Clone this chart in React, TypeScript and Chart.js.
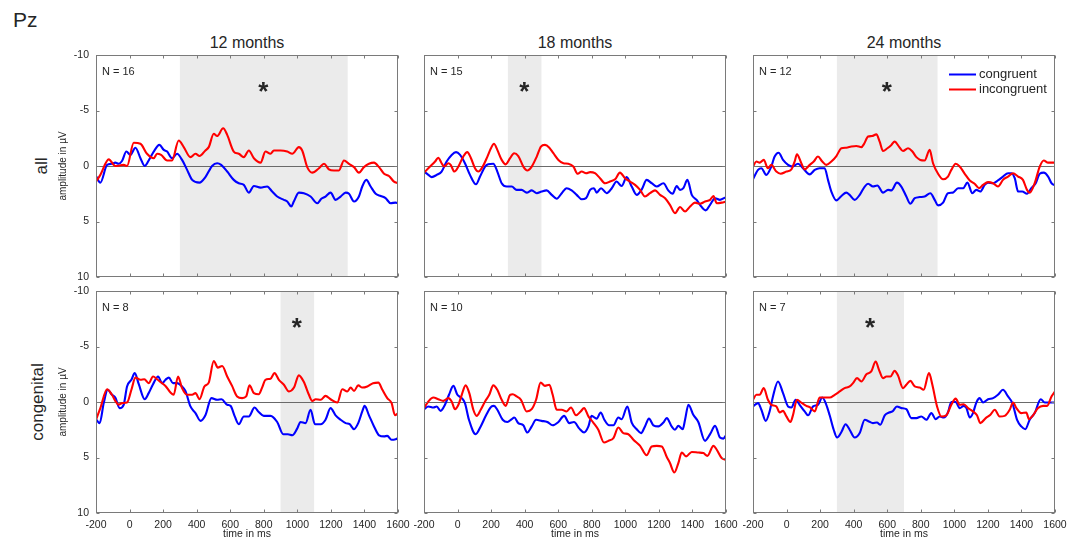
import React, { useEffect, useRef } from 'react';
import { Chart, registerables } from 'chart.js';

Chart.register(...registerables);

// ---- ERP grand averages at electrode Pz: [time in ms, amplitude in µV] ----

// 12 months, all children
const con12All: [number, number][] = [
  [-200, 0.9], [-174, 1.5], [-134, -0.1], [-105, -0.2], [-85, -0.3], [-65, -0.2], [-45, -0.45], [-19, -1.3],
  [5, -1.0], [35, -1.65], [65, -0.7], [90, 0], [114, -0.5], [144, -1.3], [178, -1.9], [204, -1.45],
  [224, -1.3], [253, -0.7], [283, -1.1], [313, -0.55], [343, 0.35], [373, 1.25], [417, 1.5], [452, 1.0],
  [492, 0], [522, -0.25], [546, -0.1], [582, 0.5], [621, 1.25], [651, 1.55], [681, 1.7], [711, 2.4],
  [741, 1.8], [781, 1.95], [820, 1.85], [850, 2.3], [880, 2.75], [920, 3.05], [940, 3.2], [964, 3.65],
  [979, 3.2], [1009, 2.4], [1039, 2.45], [1079, 2.75], [1119, 3.35], [1143, 2.95], [1168, 2.75], [1198, 2.4],
  [1228, 3.05], [1258, 2.75], [1288, 2.4], [1308, 2.5], [1338, 3.2], [1367, 2.75], [1387, 1.85], [1411, 1.25],
  [1437, 1.85], [1467, 2.5], [1497, 2.7], [1526, 2.9], [1556, 3.35], [1586, 3.3], [1600, 3.35],
];
const inc12All: [number, number][] = [
  [-200, 1.4], [-174, 0.8], [-124, -0.6], [-85, 0], [-35, -0.1], [-15, 0], [25, -2.1], [65, -2.0],
  [104, -1.1], [144, -0.7], [164, -1.1], [188, -1.0], [224, -0.5], [253, -0.5], [293, -2.3], [323, -1.7],
  [363, -0.8], [393, -1.1], [417, -0.9], [452, -1.4], [472, -1.7], [502, -2.9], [522, -2.7], [558, -3.4],
  [582, -2.8], [621, -1.3], [651, -1.1], [681, -0.8], [711, -1.4], [741, -0.7], [781, -0.3], [810, -1.3],
  [840, -1.1], [860, -1.4], [900, -1.4], [940, -1.3], [970, -1.1], [1009, -1.7], [1029, -1.4], [1059, 0.1],
  [1089, 0.6], [1129, 0.2], [1159, -0.2], [1188, 0.3], [1218, 0.4], [1248, 0.4], [1278, -0.5], [1308, -0.2],
  [1338, 0.1], [1367, 0.6], [1397, 0.1], [1427, -0.2], [1457, -0.3], [1487, 0.1], [1517, 0.7], [1546, 0.9],
  [1576, 1.4], [1600, 1.55],
];

// 18 months, all children
const con18All: [number, number][] = [
  [-200, 0.5], [-174, 0.8], [-154, 1.0], [-124, 0.8], [-95, 0.5], [-65, -0.4], [-35, -1.0], [-9, -1.25],
  [15, -1.0], [44, -0.25], [74, 0.8], [110, 1.65], [134, 0.95], [164, 0.05], [183, -0.15], [213, -0.2],
  [237, 0.5], [263, 1.55], [293, 1.85], [323, 1.85], [352, 2.15], [382, 2.15], [412, 2.4], [442, 2.2],
  [472, 2.45], [501, 2.3], [531, 2.2], [561, 2.6], [591, 2.95], [621, 2.45], [650, 2.0], [680, 2.2],
  [710, 2.6], [740, 3.0], [766, 2.9], [790, 2.15], [813, 2.0], [829, 2.4], [855, 2.0], [889, 2.45],
  [919, 2.0], [948, 1.4], [978, 1.8], [1008, 1.0], [1038, 1.85], [1068, 2.6], [1098, 2.1], [1127, 1.25],
  [1157, 1.55], [1187, 1.85], [1227, 1.55], [1256, 2.2], [1282, 2.5], [1306, 1.8], [1326, 2.15], [1346, 2.0],
  [1370, 1.25], [1396, 2.6], [1425, 3.05], [1445, 3.5], [1479, 4.0], [1505, 3.5], [1535, 2.9], [1564, 3.05],
  [1600, 2.8],
];
const inc18All: [number, number][] = [
  [-200, 0.6], [-164, 0.05], [-134, -0.4], [-115, -0.75], [-95, -0.25], [-79, 0.05], [-55, -0.25], [-41, -0.1],
  [-19, 0.5], [5, 0.05], [34, -0.85], [58, -1.25], [80, -0.7], [104, 0.2], [124, 0.5], [150, 0.05],
  [178, -0.85], [199, -1.6], [217, -2.0], [237, -1.45], [263, -0.55], [287, -0.15], [313, -0.7], [337, -1.15],
  [362, -0.9], [392, 0.05], [416, 0.4], [442, 0.05], [472, -0.85], [497, -1.75], [521, -1.9], [547, -1.65],
  [571, -1.15], [601, -0.55], [631, -0.25], [660, -0.2], [690, 0.05], [716, 0.7], [740, 0.5], [766, 0.65],
  [790, 0.55], [819, 0.65], [849, 1.1], [879, 1.55], [909, 1.4], [939, 1.2], [968, 0.6], [998, 1.1],
  [1028, 1.4], [1058, 1.7], [1088, 2.15], [1117, 2.75], [1147, 2.45], [1177, 2.2], [1207, 2.6], [1237, 2.9],
  [1266, 3.5], [1296, 4.25], [1326, 3.7], [1356, 4.1], [1386, 3.65], [1415, 3.3], [1445, 3.4], [1475, 3.2],
  [1505, 3.05], [1525, 2.7], [1545, 3.35], [1574, 3.3], [1600, 3.2],
];

// 24 months, all children
const con24All: [number, number][] = [
  [-200, 1.2], [-170, 0.35], [-150, 0.2], [-121, 0.8], [-91, 0.05], [-71, -0.85], [-47, -1.2], [-21, -0.55],
  [9, -0.1], [34, 0.05], [68, -0.2], [98, 0.2], [138, 0.75], [168, 0.35], [197, 0.2], [227, 0.2],
  [247, 1.25], [267, 2.3], [297, 3.1], [327, 2.7], [356, 2.4], [376, 2.6], [406, 3.05], [436, 2.6],
  [466, 1.85], [486, 1.6], [515, 1.85], [541, 1.75], [575, 2.4], [605, 2.15], [625, 2.2], [658, 1.5],
  [684, 1.85], [714, 2.75], [738, 3.4], [764, 2.9], [794, 2.8], [823, 2.75], [857, 2.45], [883, 3.05],
  [903, 3.55], [933, 3.3], [962, 2.45], [992, 2.4], [1022, 2.0], [1052, 2.0], [1078, 1.5], [1107, 2.45],
  [1131, 2.15], [1155, 2.3], [1181, 1.7], [1201, 1.5], [1231, 1.55], [1260, 1.3], [1290, 0.95], [1320, 0.65],
  [1340, 0.65], [1360, 1.1], [1380, 2.3], [1405, 2.3], [1433, 2.5], [1459, 2.0], [1485, 1.55], [1509, 0.7],
  [1533, 0.6], [1559, 0.95], [1579, 1.55], [1600, 1.75],
];
const inc24All: [number, number][] = [
  [-200, 0.05], [-180, -0.4], [-160, -0.3], [-136, -0.55], [-111, 0.2], [-91, -0.1], [-61, 0.5], [-35, 0.7],
  [-1, 0.5], [29, 0.3], [48, -0.4], [62, -1.05], [88, -0.25], [108, 0.3], [138, -0.1], [162, -0.4],
  [187, -0.85], [213, -0.4], [237, -0.1], [267, -0.4], [297, -0.9], [327, -1.6], [356, -1.65], [386, -1.75],
  [416, -1.8], [446, -1.7], [462, -2.0], [486, -2.65], [509, -2.7], [535, -2.85], [555, -2.2], [575, -1.35],
  [601, -1.6], [625, -1.9], [644, -2.2], [670, -1.75], [694, -1.35], [724, -1.6], [750, -1.3], [774, -0.8],
  [797, -0.55], [823, -0.5], [853, -1.45], [873, -0.25], [903, 0.7], [933, 1.2], [962, 0.95], [982, 0.35],
  [1008, -0.2], [1032, 0.05], [1062, 0.7], [1092, 1.3], [1121, 1.6], [1147, 2.0], [1171, 1.7], [1201, 1.45],
  [1231, 1.55], [1260, 1.85], [1290, 1.25], [1320, 0.95], [1350, 0.65], [1380, 0.95], [1409, 1.25], [1433, 2.15],
  [1449, 2.4], [1479, 1.55], [1509, 0.05], [1533, -0.5], [1559, -0.3], [1600, -0.3],
];

// 12 months, congenital
const con12Cong: [number, number][] = [
  [-200, 1.55], [-178, 1.9], [-154, 0.1], [-130, -1.1], [-105, -0.65], [-85, -0.4], [-59, 0.55], [-35, 0.25],
  [-15, -1.4], [11, -2.0], [31, -2.6], [55, -1.6], [90, -0.25], [114, -0.8], [140, -1.6], [170, -2.3],
  [194, -1.7], [214, -2.0], [234, -2.2], [259, -1.7], [283, -1.7], [313, -1.4], [333, -1.0], [363, 0.4],
  [393, 1.0], [423, 1.7], [452, 1.2], [488, -0.35], [522, -0.2], [548, -0.25], [582, 0.25], [602, 0.35],
  [627, 1.3], [651, 2.0], [681, 1.3], [711, 1.3], [745, 0.5], [770, 0.9], [800, 1.25], [840, 1.25],
  [880, 1.8], [916, 2.9], [944, 2.9], [970, 3.0], [999, 2.4], [1019, 1.8], [1049, 1.9], [1079, 0.7],
  [1105, 2.0], [1139, 2.0], [1168, 1.6], [1198, 0.55], [1228, 1.2], [1258, 1.6], [1288, 1.9], [1312, 2.0],
  [1338, 2.45], [1363, 1.9], [1387, 0.85], [1401, 0.35], [1427, 1.2], [1457, 2.2], [1487, 3.0], [1517, 3.1],
  [1536, 3.05], [1562, 3.4], [1586, 3.35], [1600, 3.25],
];
const inc12Cong: [number, number][] = [
  [-200, 1.6], [-174, 0.55], [-134, -1.15], [-105, -0.65], [-85, -0.1], [-65, 0.25], [-45, 0.1], [-15, 0.05],
  [11, -1.1], [35, -2.2], [65, -2.0], [88, -2.05], [114, -1.7], [140, -2.3], [164, -2.05], [184, -1.8],
  [214, -1.45], [244, -0.85], [263, -0.65], [289, -2.3], [313, -1.25], [343, -0.65], [373, -0.65], [393, -0.8],
  [417, -0.25], [446, -1.4], [472, -1.75], [502, -3.7], [526, -3.1], [552, -3.25], [582, -2.3], [611, -1.45],
  [641, -0.5], [671, -0.35], [695, -0.5], [715, -1.5], [741, -0.8], [770, -0.7], [790, -1.3], [810, -2.0],
  [840, -2.1], [864, -2.6], [890, -2.0], [920, -1.55], [950, -0.95], [980, -1.3], [1009, -2.4], [1039, -1.8],
  [1069, -0.65], [1089, -0.1], [1109, -0.25], [1139, -0.2], [1168, -0.55], [1198, -0.25], [1238, 0.05], [1268, -1.15],
  [1298, -0.95], [1318, -1.3], [1338, -1.0], [1363, -1.5], [1387, -1.3], [1417, -1.4], [1451, -1.7], [1483, -1.75],
  [1507, -1.1], [1536, -0.35], [1562, 0.1], [1582, 1.2], [1600, 1.0],
];

// 18 months, congenital
const con18Cong: [number, number][] = [
  [-200, 0.65], [-174, 0.4], [-144, 0.5], [-124, 0.4], [-101, 0.8], [-75, 0.25], [-51, -0.65], [-25, -1.45],
  [-1, -0.65], [25, -0.35], [44, 0.1], [68, 1.6], [108, 2.9], [138, 2.2], [170, 1.2], [203, 0.4],
  [217, 0.35], [237, 0.7], [269, 1.6], [297, 1.8], [323, 1.55], [338, 1.4], [362, 1.9], [392, 2.1],
  [416, 2.75], [442, 2.2], [468, 1.6], [501, 1.7], [535, 1.8], [567, 2.1], [601, 1.8], [635, 1.25],
  [666, 1.9], [694, 1.8], [726, 2.4], [754, 2.75], [780, 2.2], [799, 1.25], [829, 1.5], [853, 0.95],
  [875, 1.6], [903, 2.1], [929, 2.1], [958, 1.4], [978, 1.55], [1012, 0.4], [1038, 1.85], [1068, 2.45],
  [1094, 2.8], [1117, 2.2], [1141, 1.5], [1167, 2.1], [1197, 2.2], [1227, 1.85], [1247, 1.45], [1276, 2.2],
  [1296, 2.5], [1316, 2.15], [1342, 2.45], [1356, 1.6], [1376, 0.25], [1405, 1.15], [1435, 1.8], [1475, 3.5],
  [1505, 2.9], [1535, 2.15], [1564, 3.2], [1584, 3.3], [1600, 3.0],
];
const inc18Cong: [number, number][] = [
  [-200, 0.55], [-174, -0.05], [-144, -0.4], [-115, -0.25], [-85, -0.1], [-55, -0.35], [-35, -0.05], [-15, 0.65],
  [5, 0.25], [25, -0.65], [48, -1.5], [70, -0.8], [94, 0.7], [114, 1.25], [138, 0.7], [164, -0.05],
  [189, -0.65], [213, -1.5], [237, -1.1], [263, -0.2], [287, 0.35], [313, -0.65], [329, -0.7], [352, -0.5],
  [378, -0.2], [412, 0.85], [442, 0.65], [468, -0.2], [495, -1.75], [521, -1.45], [547, -1.55], [567, -0.65],
  [591, 0.7], [621, 0.7], [650, 0.85], [676, 0.5], [706, 1.2], [734, 0.85], [754, 0.55], [780, 1.3],
  [809, 1.85], [839, 2.5], [873, 3.65], [899, 3.5], [929, 3.25], [958, 2.3], [988, 2.8], [1018, 2.9],
  [1048, 3.4], [1088, 3.95], [1127, 4.8], [1157, 4.0], [1187, 3.95], [1217, 4.0], [1247, 4.95], [1266, 5.5],
  [1292, 6.35], [1316, 5.5], [1336, 4.55], [1362, 4.9], [1396, 4.5], [1435, 4.55], [1465, 4.6], [1489, 4.85],
  [1525, 3.95], [1545, 4.3], [1574, 5.05], [1600, 5.2],
];

// 24 months, congenital
const con24Cong: [number, number][] = [
  [-200, 0.4], [-170, 0.1], [-150, 0.7], [-124, 1.7], [-101, 0.85], [-81, -0.5], [-51, -1.85], [-21, -0.8],
  [9, 0.4], [29, 0.5], [54, -0.2], [78, 0.25], [108, 0.85], [128, 1.2], [158, 0.4], [187, 0.25],
  [213, -0.4], [237, 0.25], [257, 1.2], [281, 2.5], [301, 3.2], [327, 2.7], [352, 2.0], [376, 2.5],
  [406, 3.2], [436, 2.8], [466, 1.6], [491, 1.75], [515, 1.9], [539, 1.85], [559, 2.05], [585, 1.2],
  [611, 0.95], [631, 0.85], [658, 0.4], [684, 0.55], [714, 0.65], [744, 1.45], [774, 1.45], [803, 1.3],
  [833, 1.6], [863, 1.0], [889, 1.55], [913, 1.3], [937, 1.4], [962, 0.95], [982, 0], [1008, 0],
  [1032, 0.55], [1056, 0.35], [1072, 0.55], [1092, 1.4], [1111, 1.0], [1131, 0.05], [1151, -0.35], [1171, 0.05],
  [1201, -0.25], [1231, -0.35], [1260, -0.65], [1290, -1.1], [1320, -0.5], [1346, 0.1], [1374, 1.6], [1399, 2.2],
  [1423, 2.45], [1449, 1.6], [1479, 1.0], [1515, -0.25], [1539, 0.05], [1569, 0.05], [1600, 0.05],
];
const inc24Cong: [number, number][] = [
  [-200, -0.2], [-180, -0.65], [-160, -0.65], [-136, -1.25], [-111, -0.2], [-91, 0.25], [-61, 0.4], [-41, 0.95],
  [-21, 0.8], [-1, 1.3], [23, 1.8], [38, 1.2], [62, -0.2], [88, 0.05], [118, 0.35], [142, 0.5],
  [168, 0.85], [197, -0.4], [227, -0.4], [257, -0.4], [287, -0.65], [317, -0.95], [346, -1.25], [376, -1.4],
  [396, -1.7], [420, -2.15], [446, -1.85], [476, -2.5], [505, -2.75], [531, -3.65], [551, -2.9], [575, -2.15],
  [595, -2.3], [619, -2.3], [644, -2.8], [664, -2.4], [694, -1.25], [714, -1.55], [738, -1.9], [764, -1.4],
  [794, -1.3], [817, -1.1], [849, -2.6], [869, -1.55], [897, 0.4], [923, 1.3], [952, 1.2], [982, 0.25],
  [1008, -0.3], [1032, 0.25], [1056, 0.2], [1082, 0.55], [1111, 0.85], [1135, 1.2], [1155, 1.9], [1187, 1.45],
  [1215, 1.15], [1241, 0.7], [1270, 1.3], [1300, 1.25], [1330, 0.7], [1350, 0.05], [1370, 0.55], [1399, 1.0],
  [1429, 0.95], [1445, 1.55], [1469, 1.2], [1499, 0.55], [1529, 0.35], [1553, 0.35], [1579, -0.5], [1600, -0.95],
];

// ---- panel annotations ----
const ageLabels = ['12 months', '18 months', '24 months'];
const groupLabels = ['all', 'congenital'];
const sampleSizes = [16, 15, 12, 8, 10, 7];
const sigWindows: ([number, number] | null)[] = [[300, 1300], [300, 500], [300, 900], [900, 1100], null, [300, 700]];
const seriesNames = ['congruent', 'incongruent'];
const xTickValues = [-200, 0, 200, 400, 600, 800, 1000, 1200, 1400, 1600];
const yTickValues = [-10, -5, 0, 5, 10];

const congruentSeries = [con12All, con18All, con24All, con12Cong, con18Cong, con24Cong];
const incongruentSeries = [inc12All, inc18All, inc24All, inc12Cong, inc18Cong, inc24Cong];

// ---- layout & style ----
const FONT = "'Liberation Sans', Arial, Helvetica, sans-serif";
const TEXT = '#262626';
const AXIS = '#7a7a7a';
const ZERO = '#6a6a6a';
const SHADE = '#ebebeb';
const BLUE = 'rgb(0,0,255)';
const RED = 'rgb(255,0,0)';

const PLOT_W = 302;
const PLOT_H = 222;
const PLOT_LEFT = [96, 424, 753];
const PLOT_TOP = [55, 291];
const PAD = { l: 44, r: 14, t: 8, b: 26 };
const CANVAS_W = PLOT_W + PAD.l + PAD.r;
const CANVAS_H = PLOT_H + PAD.t + PAD.b;

type PanelCfg = {
  idx: number;
  col: number;
  row: number;
};

// draws text so that its visible glyph box is centred on (cx, cy)
function fillCentered(ctx: CanvasRenderingContext2D, text: string, cx: number, cy: number) {
  ctx.textAlign = 'left';
  ctx.textBaseline = 'alphabetic';
  const m = ctx.measureText(text);
  const bx = cx - (m.actualBoundingBoxRight - m.actualBoundingBoxLeft) / 2;
  const by = cy + (m.actualBoundingBoxAscent - m.actualBoundingBoxDescent) / 2;
  ctx.fillText(text, bx, by);
}

function makeDecor(idx: number, showLegend: boolean) {
  return {
    id: 'erpDecor',
    beforeDatasetsDraw(chart: any) {
      const { ctx, chartArea: a, scales } = chart;
      const x = scales.x;
      const y = scales.y;
      ctx.save();
      const win = sigWindows[idx];
      if (win) {
        const x0 = x.getPixelForValue(win[0]);
        const x1 = x.getPixelForValue(win[1]);
        ctx.fillStyle = SHADE;
        ctx.fillRect(x0, a.top, x1 - x0, a.bottom - a.top);
      }
      const y0 = Math.round(y.getPixelForValue(0)) + 0.5;
      ctx.strokeStyle = ZERO;
      ctx.lineWidth = 1;
      ctx.beginPath();
      ctx.moveTo(a.left, y0);
      ctx.lineTo(a.right, y0);
      ctx.stroke();
      ctx.restore();
    },
    afterDatasetsDraw(chart: any) {
      const { ctx, chartArea: a, scales } = chart;
      const x = scales.x;
      const y = scales.y;
      ctx.save();
      // axes box with inward tick marks on all four sides
      const L = Math.round(a.left) + 0.5;
      const R = Math.round(a.right) - 0.5;
      const T = Math.round(a.top) + 0.5;
      const B = Math.round(a.bottom) - 0.5;
      ctx.strokeStyle = AXIS;
      ctx.lineWidth = 1;
      ctx.strokeRect(L, T, R - L, B - T);
      const tl = 3;
      ctx.beginPath();
      xTickValues.forEach((t) => {
        const px = Math.round(x.getPixelForValue(t)) + 0.5;
        ctx.moveTo(px, B);
        ctx.lineTo(px, B - tl);
        ctx.moveTo(px, T);
        ctx.lineTo(px, T + tl);
      });
      yTickValues.forEach((v) => {
        const py = Math.round(y.getPixelForValue(v)) + 0.5;
        ctx.moveTo(L, py);
        ctx.lineTo(L + tl, py);
        ctx.moveTo(R, py);
        ctx.lineTo(R - tl, py);
      });
      ctx.stroke();

      // sample size
      ctx.fillStyle = TEXT;
      ctx.font = `11px ${FONT}`;
      ctx.textAlign = 'left';
      ctx.textBaseline = 'middle';
      ctx.fillText(`N = ${sampleSizes[idx]}`, a.left + 6, a.top + 17);

      // significance marker centred on the window
      const win = sigWindows[idx];
      if (win) {
        ctx.font = `bold 26px ${FONT}`;
        const cx = x.getPixelForValue((win[0] + win[1]) / 2);
        const cy = y.getPixelForValue(-7.15);
        fillCentered(ctx, '*', cx, cy);
      }

      if (showLegend) {
        const lx0 = a.right - 106;
        const lx1 = a.right - 79;
        const rows: [string, string][] = [
          [seriesNames[0], BLUE],
          [seriesNames[1], RED],
        ];
        ctx.font = `13px ${FONT}`;
        ctx.textAlign = 'left';
        ctx.textBaseline = 'middle';
        rows.forEach(([label, color], i) => {
          const ly = a.top + 19.5 + i * 15;
          ctx.strokeStyle = color;
          ctx.lineWidth = 2;
          ctx.beginPath();
          ctx.moveTo(lx0, ly);
          ctx.lineTo(lx1, ly);
          ctx.stroke();
          ctx.fillStyle = TEXT;
          ctx.fillText(label, a.right - 76, ly);
        });
      }
      ctx.restore();
    },
  };
}

function Panel({ idx, col, row }: PanelCfg) {
  const ref = useRef<HTMLCanvasElement | null>(null);

  useEffect(() => {
    const canvas = ref.current;
    if (!canvas) return;
    const showY = col === 0;
    const showX = row === 1;
    const tickFont = { family: FONT, size: 10.5 };
    const chart = new Chart(canvas, {
      type: 'line',
      data: {
        datasets: [
          {
            label: seriesNames[1],
            data: incongruentSeries[idx].map(([t, v]) => ({ x: t, y: v })),
            borderColor: RED,
            borderWidth: 2.1,
            pointRadius: 0,
            cubicInterpolationMode: 'monotone',
            fill: false,
            order: 0,
          },
          {
            label: seriesNames[0],
            data: congruentSeries[idx].map(([t, v]) => ({ x: t, y: v })),
            borderColor: BLUE,
            borderWidth: 2.1,
            pointRadius: 0,
            cubicInterpolationMode: 'monotone',
            fill: false,
            order: 1,
          },
        ],
      },
      options: {
        animation: false,
        responsive: false,
        maintainAspectRatio: false,
        devicePixelRatio: 1,
        events: [],
        layout: { padding: { left: 0, top: PAD.t, right: PAD.r, bottom: 0 } },
        plugins: { legend: { display: false }, tooltip: { enabled: false } },
        scales: {
          x: {
            type: 'linear',
            min: -200,
            max: 1600,
            afterFit: (s: any) => {
              s.height = PAD.b;
              s.paddingLeft = 0;
              s.paddingRight = 0;
            },
            afterBuildTicks: (s: any) => {
              s.ticks = xTickValues.map((v) => ({ value: v }));
            },
            grid: { display: false, drawTicks: false },
            border: { display: false },
            ticks: {
              display: showX,
              autoSkip: false,
              maxRotation: 0,
              padding: 6,
              color: TEXT,
              font: tickFont,
              callback: (v: any) => String(v),
            },
            title: {
              display: showX,
              text: 'time in ms',
              color: TEXT,
              padding: 0,
              font: { family: FONT, size: 10.5, lineHeight: 1 },
            },
          },
          y: {
            type: 'linear',
            min: -10,
            max: 10,
            reverse: true,
            afterFit: (s: any) => {
              s.width = PAD.l;
              s.paddingTop = 0;
              s.paddingBottom = 0;
            },
            afterBuildTicks: (s: any) => {
              s.ticks = yTickValues.map((v) => ({ value: v }));
            },
            grid: { display: false, drawTicks: false },
            border: { display: false },
            ticks: {
              display: showY,
              padding: 7,
              color: TEXT,
              font: tickFont,
              callback: (v: any) => String(v),
            },
            title: {
              display: showY,
              text: 'amplitude in µV',
              color: TEXT,
              padding: { top: 5, bottom: 0 },
              font: { family: FONT, size: 10 },
            },
          },
        },
      },
      plugins: [makeDecor(idx, idx === 2)],
    } as any);
    return () => chart.destroy();
  }, [idx, col, row]);

  return (
    <canvas
      ref={ref}
      width={CANVAS_W}
      height={CANVAS_H}
      style={{
        position: 'absolute',
        left: PLOT_LEFT[col] - PAD.l,
        top: PLOT_TOP[row] - PAD.t,
        width: CANVAS_W,
        height: CANVAS_H,
      }}
    />
  );
}

export default function App() {
  const panels: PanelCfg[] = [];
  for (let r = 0; r < 2; r++) {
    for (let c = 0; c < 3; c++) {
      panels.push({ idx: r * 3 + c, col: c, row: r });
    }
  }
  const textBase: React.CSSProperties = {
    position: 'absolute',
    fontFamily: FONT,
    color: TEXT,
    lineHeight: 1,
    whiteSpace: 'nowrap',
  };
  const groupCenters = [
    { x: 41, y: 166 },
    { x: 37, y: 402 },
  ];
  return (
    <div
      style={{
        position: 'absolute',
        left: 0,
        top: 0,
        width: 1077,
        height: 539,
        overflow: 'hidden',
        background: '#ffffff',
      }}
    >
      <div style={{ ...textBase, left: 13, top: 9, fontSize: 21 }}>Pz</div>
      {ageLabels.map((t, c) => (
        <div
          key={t}
          style={{
            ...textBase,
            left: PLOT_LEFT[c] + PLOT_W / 2,
            top: 35,
            fontSize: 16,
            transform: 'translateX(-50%)',
          }}
        >
          {t}
        </div>
      ))}
      {groupLabels.map((t, r) => (
        <div
          key={t}
          style={{
            ...textBase,
            left: groupCenters[r].x,
            top: groupCenters[r].y,
            fontSize: 17,
            transform: 'translate(-50%, -50%) rotate(-90deg)',
          }}
        >
          {t}
        </div>
      ))}
      {panels.map((p) => (
        <Panel key={p.idx} {...p} />
      ))}
    </div>
  );
}
